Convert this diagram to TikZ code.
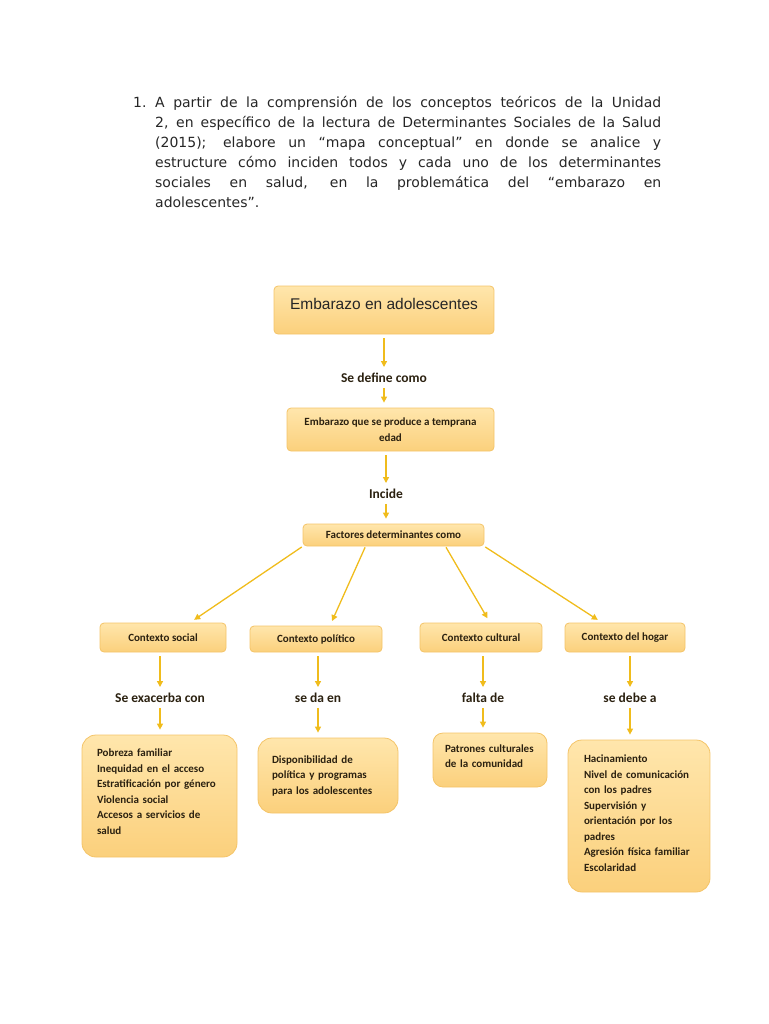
\documentclass[tikz,border=0pt]{standalone}
\usepackage{fontspec}
\setmainfont{Carlito}
\newfontfamily\verd{DejaVu Sans}
\newfontfamily\arial{Liberation Sans}
\usetikzlibrary{arrows.meta,calc}
\definecolor{boxtop}{HTML}{FFE6AC}
\definecolor{boxbot}{HTML}{FBD07C}
\definecolor{boxline}{HTML}{F4C468}
\definecolor{arrowc}{HTML}{F0BC1C}
\definecolor{txt}{HTML}{2B2110}
\definecolor{ptxt}{HTML}{262626}
\begin{document}
\begin{tikzpicture}[x=1pt,y=-1pt,
  box/.style={draw=boxline, line width=0.8pt, top color=boxtop, bottom color=boxbot,
    rounded corners=4pt, font=\bfseries\fontsize{11}{15.5}\selectfont, text=txt,
    align=center, inner sep=0pt},
  bigbox/.style={box, rounded corners=14pt, align=left},
  lab/.style={font=\bfseries\fontsize{13.5}{15}\selectfont, text=txt, inner sep=1pt},
  arr/.style={draw=arrowc, line width=1.3pt, -{Triangle[width=6pt,length=6pt]},
    shorten <=4pt, shorten >=5pt}]
\useasboundingbox (0,0) rectangle (768,1024);

% paragraph
\node[anchor=north west, inner sep=0pt, text width=506pt, align=justify,
  font=\verd\fontsize{14}{20}\selectfont, text=ptxt] (para) at (155,93)
  {\strut A partir de la comprensión de los conceptos teóricos de la Unidad\linebreak
   2, en específico de la lectura de Determinantes Sociales de la Salud\linebreak
   (2015); elabore un “mapa conceptual” en donde se analice y\linebreak
   estructure cómo inciden todos y cada uno de los determinantes\linebreak
   sociales en salud, en la problemática del “embarazo en\linebreak
   adolescentes”.};
\node[anchor=north west, inner sep=0pt, font=\verd\fontsize{14}{20}\selectfont, text=ptxt]
  (num) at (133,93) {\strut 1.};

% main chain
\node[box, minimum width=220pt, minimum height=48pt, text height=11pt, text depth=12pt,
  font=\arial\fontsize{15.5}{18}\selectfont, text=ptxt] (b1) at (384,310) {Embarazo en adolescentes};
\node[lab] (l1) at (384,378) {Se define como};
\node[box, minimum width=207pt, minimum height=43pt, font=\bfseries\fontsize{11}{16}\selectfont]
  (b2) at (390.5,429.5) {Embarazo que se produce a temprana\\edad};
\node[lab] (l2) at (386,494) {Incide};
\node[box, minimum width=181pt, minimum height=22pt] (b3) at (393.5,535) {Factores determinantes como};

\draw[arr] (b1) -- (l1);
\draw[arr] (l1) -- (l1 |- b2.north);
\draw[arr] (b2.south -| l2) -- (l2);
\draw[arr] (l2) -- (l2 |- b3.north);

% contexts
\node[box, minimum width=126pt, minimum height=29pt] (cs) at (163,637.5) {Contexto social};
\node[box, minimum width=132pt, minimum height=26pt] (cp) at (316,639) {Contexto político};
\node[box, minimum width=122pt, minimum height=29pt] (cc) at (481,637.5) {Contexto cultural};
\node[box, minimum width=120pt, minimum height=29pt] (ch) at (625,637.5) {Contexto del hogar};

\draw[arr, shorten <=1pt] (b3.south west) -- ([xshift=27pt]cs.north);
\draw[arr, shorten <=1pt] ([xshift=-28pt]b3.south) -- ([xshift=14pt]cp.north);
\draw[arr, shorten <=1pt] ([xshift=52pt]b3.south) -- ([xshift=9pt]cc.north);
\draw[arr, shorten <=1pt] (b3.south east) -- ([xshift=-23pt]ch.north);

% labels
\node[lab] (ls) at (160,698) {Se exacerba con};
\node[lab] (lp) at (318,698) {se da en};
\node[lab] (lc) at (483,698) {falta de};
\node[lab] (lh) at (630,698) {se debe a};

\draw[arr] (cs.south -| ls) -- (ls);
\draw[arr] (cp.south -| lp) -- (lp);
\draw[arr] (cc.south -| lc) -- (lc);
\draw[arr] (ch.south -| lh) -- (lh);

% bottom boxes
\node[bigbox, minimum width=155pt, minimum height=122pt, text width=125pt, inner xsep=15pt]
  (x1) at (159.5,796) {Pobreza familiar\\Inequidad en el acceso\\Estratificación por género\\Violencia social\\Accesos a servicios de\\salud\par\vspace*{9pt}};
\node[bigbox, minimum width=140pt, minimum height=75pt, text width=112pt, inner xsep=14pt]
  (x2) at (328,775.5) {Disponibilidad de\\política y programas\\para los adolescentes};
\node[bigbox, minimum width=114pt, minimum height=54pt, text width=90pt, inner xsep=12pt,
  rounded corners=10pt]
  (x3) at (490,760) {Patrones culturales\\de la comunidad\par\vspace*{8pt}};
\node[bigbox, minimum width=142pt, minimum height=152pt, text width=110pt, inner xsep=16pt]
  (x4) at (639,816) {Hacinamiento\\Nivel de comunicación\\con los padres\\Supervisión y\\orientación por los\\padres\\Agresión física familiar\\Escolaridad\par\vspace*{6pt}};

\draw[arr] (ls) -- (ls |- x1.north);
\draw[arr] (lp) -- (lp |- x2.north);
\draw[arr] (lc) -- (lc |- x3.north);
\draw[arr] (lh) -- (lh |- x4.north);
\end{tikzpicture}
\end{document}
